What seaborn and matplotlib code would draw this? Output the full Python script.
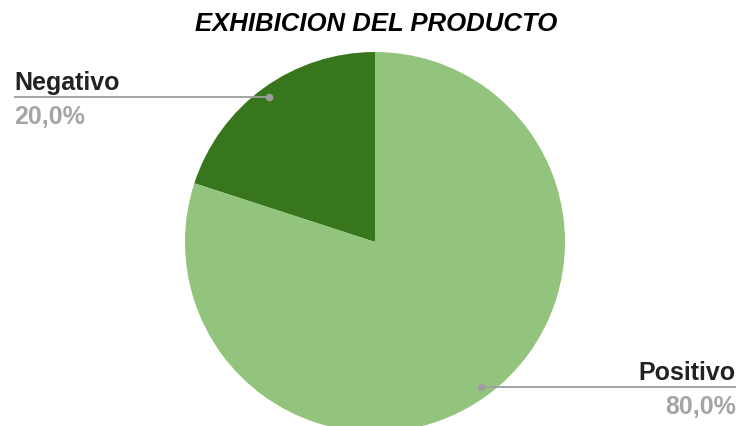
import numpy as np
import matplotlib
matplotlib.use("Agg")
import matplotlib.pyplot as plt
import seaborn as sns

categories = ["Negativo", "Positivo"]
values = [20.0, 80.0]
colors = ["#38761d", "#93c47d"]
title = "EXHIBICION DEL PRODUCTO"

sns.set_theme(style="white")
plt.rcParams['font.family'] = ['Liberation Sans', 'DejaVu Sans']

W, H = 741, 427
fig = plt.figure(figsize=(W / 100, H / 100), dpi=100)
ax = fig.add_axes([0, 0, 1, 1])

cx, cy, R = 375, H - 243, 190
wedges, _ = ax.pie(values, colors=colors, startangle=90, counterclock=True,
                   center=(cx, cy), radius=R, frame=True,
                   wedgeprops=dict(linewidth=0))
ax.set_xlim(0, W)
ax.set_ylim(0, H)
ax.set_aspect('equal')
ax.axis('off')

total = sum(values)
start = 90.0
line_col = "#9e9e9e"
for i, (cat, v) in enumerate(zip(categories, values)):
    ang = start + 360 * v / total / 2
    start += 360 * v / total
    a = np.deg2rad(ang)
    px, py = cx + 0.945 * R * np.cos(a), cy + 0.945 * R * np.sin(a)
    if np.cos(a) < 0:
        x0, x1, ha, tx = 14, px, 'left', 14
    else:
        x0, x1, ha, tx = px, 736, 'right', 736
    ax.plot([x0, x1], [py, py], color=line_col, lw=1.3, solid_capstyle='butt')
    ax.plot([px], [py], 'o', color=line_col, ms=4.5)
    ax.text(tx, py + 8, cat, ha=ha, va='baseline', fontsize=18,
            fontweight='bold', color='#222222')
    ax.text(tx, py - 26, f"{v:.1f}%".replace('.', ','), ha=ha, va='baseline',
            fontsize=18, fontweight='bold', color='#a5a5a5')

fig.text(376 / W, 1 - 31 / H, title, ha='center', va='baseline', fontsize=18.5,
         fontweight='bold', fontstyle='italic', color='#000000')

fig.savefig("out.png", dpi=100)
